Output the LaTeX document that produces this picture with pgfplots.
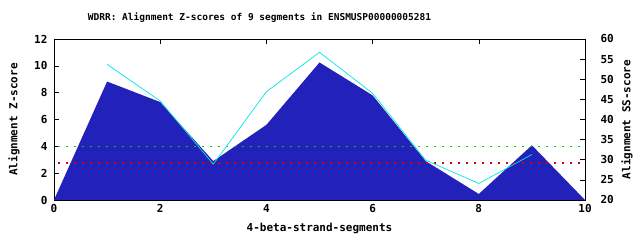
\documentclass[border=0pt]{standalone}
\usepackage{pgfplots}
\pgfplotsset{compat=1.18}
\usepackage{fontspec}
\setmainfont{DejaVu Sans Mono}
\definecolor{areablue}{RGB}{34,34,186}
\definecolor{sscyan}{RGB}{0,230,230}
\definecolor{dotgreen}{RGB}{0,210,0}
\definecolor{dotred}{RGB}{220,0,0}
\newcommand{\lblfont}{\fontsize{11}{12}\selectfont\bfseries}
\begin{document}
\begin{tikzpicture}
\useasboundingbox (0,0) rectangle (640pt,240pt);
\pgfplotsset{every axis/.append style={
  scale only axis, width=531pt, height=161pt,
  at={(54pt,40pt)}, anchor=south west,
  xmin=0, xmax=10, clip=false,
  tick align=inside, major tick length=5pt,
  font=\lblfont,
  /pgf/number format/assume math mode=true,
  axis line style={line width=0.8pt},
  every tick/.style={black, line width=0.6pt},
}}
\begin{axis}[
  ymin=0, ymax=12,
  xtick={0,2,...,10}, ytick={0,2,...,12},
  xtick pos=both, ytick pos=left,
  xticklabel style={yshift=-1pt},
  yticklabel style={xshift=-3pt},
]
\addplot[fill=areablue, draw=none] coordinates {
(0,0) (1,8.83) (2,7.3) (3,2.9) (4,5.6) (5,10.25) (6,7.8) (7,2.9) (8,0.45) (9,4.08) (10,0)
} \closedcycle;
\addplot[color=dotgreen, line width=1.4pt, dash pattern=on 1.4pt off 6.6pt] coordinates {(0.08,4) (9.95,4)};
\addplot[color=dotred, line width=1.4pt, dash pattern=on 1.4pt off 6.6pt] coordinates {(0.08,2.75) (9.95,2.75)};
\node[font=\fontsize{9.5}{10}\selectfont\bfseries] at ([xshift=-60pt,yshift=21pt]rel axis cs:0.5,1) {WDRR: Alignment Z-scores of 9 segments in ENSMUSP00000005281};
\node at ([yshift=-28pt]rel axis cs:0.5,0) {4-beta-strand-segments};
\node[rotate=90] at ([xshift=-40pt]rel axis cs:0,0.5) {Alignment Z-score};
\node[rotate=90] at ([xshift=42pt]rel axis cs:1,0.5) {Alignment SS-score};
\end{axis}
\begin{axis}[
  ymin=20, ymax=60,
  ytick={20,25,...,60},
  hide x axis,
  axis y line*=right, ytick pos=right,
  yticklabel style={xshift=12pt},
]
\addplot[sscyan, line width=0.7pt] coordinates {
(1,53.7) (2,44.6) (3,28.9) (4,46.9) (5,56.7) (6,46.5) (7,29.9) (8,24.1) (9,31.3)
};
\end{axis}
\end{tikzpicture}
\end{document}
